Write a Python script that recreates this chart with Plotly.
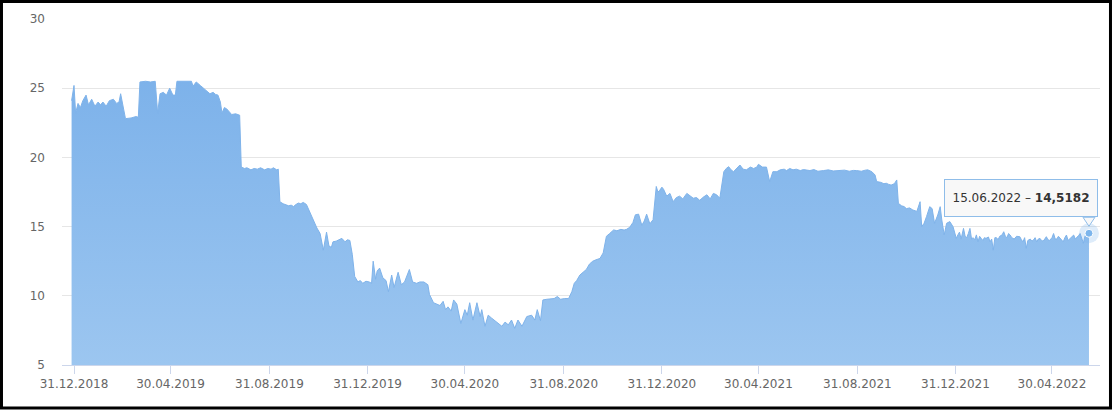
import plotly.graph_objects as go

# ---- data (date, value) ----
seg_2019a = [
    ("2018-12-28", 24.1), ("2018-12-31", 25.2), ("2019-01-02", 23.2), ("2019-01-05", 23.9),
    ("2019-01-08", 23.6), ("2019-01-11", 24.1), ("2019-01-15", 24.5), ("2019-01-18", 23.8),
    ("2019-01-22", 24.2), ("2019-01-26", 23.7), ("2019-01-30", 24.0), ("2019-02-02", 23.8),
    ("2019-02-05", 24.0), ("2019-02-09", 23.7), ("2019-02-13", 24.1), ("2019-02-18", 24.2),
    ("2019-02-22", 23.9), ("2019-02-25", 24.0), ("2019-02-27", 24.6), ("2019-03-02", 23.7),
    ("2019-03-05", 22.8), ("2019-03-12", 22.85), ("2019-03-18", 22.95), ("2019-03-21", 22.9),
    ("2019-03-23", 25.45), ("2019-03-30", 25.5), ("2019-04-05", 25.45), ("2019-04-11", 25.5),
    ("2019-04-14", 23.2), ("2019-04-17", 24.6), ("2019-04-21", 24.7), ("2019-04-25", 24.5),
    ("2019-04-29", 25.0), ("2019-05-03", 24.5), ("2019-05-06", 24.5), ("2019-05-08", 25.5),
    ("2019-05-15", 25.5), ("2019-05-20", 25.45), ("2019-05-26", 25.5), ("2019-05-28", 25.15),
    ("2019-06-01", 25.45), ("2019-06-06", 25.2), ("2019-06-10", 25.0), ("2019-06-14", 24.75),
    ("2019-06-18", 24.6), ("2019-06-22", 24.7), ("2019-06-25", 24.55), ("2019-06-28", 24.5),
    ("2019-07-01", 24.0), ("2019-07-03", 23.2), ("2019-07-06", 23.6), ("2019-07-09", 23.5),
    ("2019-07-15", 23.1), ("2019-07-20", 23.15), ("2019-07-25", 23.05),
]
seg_2019b = [
    ("2019-07-27", 19.3), ("2019-07-31", 19.2), ("2019-08-03", 19.25), ("2019-08-08", 19.1),
    ("2019-08-12", 19.2), ("2019-08-16", 19.15), ("2019-08-20", 19.25), ("2019-08-25", 19.1),
    ("2019-08-29", 19.2), ("2019-09-02", 19.15), ("2019-09-05", 19.25), ("2019-09-09", 19.1),
    ("2019-09-11", 19.15), ("2019-09-13", 16.8), ("2019-09-17", 16.65), ("2019-09-20", 16.6),
    ("2019-09-24", 16.5), ("2019-09-27", 16.55), ("2019-09-30", 16.45), ("2019-10-03", 16.6),
    ("2019-10-06", 16.7), ("2019-10-09", 16.65), ("2019-10-12", 16.75), ("2019-10-16", 16.6),
    ("2019-10-19", 16.2), ("2019-10-22", 15.9), ("2019-10-25", 15.4), ("2019-10-29", 14.9),
    ("2019-11-02", 14.5), ("2019-11-06", 13.3), ("2019-11-10", 14.6), ("2019-11-13", 13.6),
    ("2019-11-16", 13.5), ("2019-11-18", 13.9), ("2019-11-22", 13.95), ("2019-11-26", 14.1),
    ("2019-11-29", 14.15), ("2019-12-03", 13.9), ("2019-12-06", 14.05), ("2019-12-09", 14.0),
    ("2019-12-12", 13.0), ("2019-12-15", 11.4), ("2019-12-19", 11.0), ("2019-12-22", 11.1),
    ("2019-12-25", 10.9), ("2019-12-29", 11.05),
]
seg_2020a = [
    ("2020-01-02", 11.0), ("2020-01-05", 10.9), ("2020-01-07", 12.5), ("2020-01-10", 11.2),
    ("2020-01-12", 11.8), ("2020-01-15", 12.0), ("2020-01-19", 11.3), ("2020-01-23", 11.1),
    ("2020-01-26", 10.3), ("2020-01-30", 11.5), ("2020-02-02", 10.6), ("2020-02-07", 11.7),
    ("2020-02-11", 10.8), ("2020-02-15", 11.0), ("2020-02-21", 11.9), ("2020-02-25", 11.0),
    ("2020-03-01", 10.9), ("2020-03-05", 11.0), ("2020-03-10", 11.0), ("2020-03-15", 10.8),
    ("2020-03-17", 10.1), ("2020-03-22", 9.5), ("2020-03-26", 9.4), ("2020-03-30", 9.3),
    ("2020-04-03", 9.6), ("2020-04-06", 9.0), ("2020-04-09", 9.2), ("2020-04-13", 8.9),
    ("2020-04-16", 9.7), ("2020-04-20", 9.4), ("2020-04-25", 8.0), ("2020-04-30", 9.0),
    ("2020-05-03", 8.6), ("2020-05-06", 9.5), ("2020-05-10", 8.25), ("2020-05-15", 9.5),
    ("2020-05-19", 8.5), ("2020-05-21", 9.0), ("2020-05-25", 7.8), ("2020-05-29", 8.6),
    ("2020-06-02", 8.4), ("2020-06-06", 8.2), ("2020-06-11", 8.0), ("2020-06-15", 7.8),
    ("2020-06-19", 8.1), ("2020-06-23", 7.9), ("2020-06-27", 8.25), ("2020-07-01", 7.65),
    ("2020-07-05", 8.25), ("2020-07-10", 7.8), ("2020-07-16", 8.5), ("2020-07-22", 8.6),
    ("2020-07-26", 8.25), ("2020-07-29", 9.0), ("2020-08-02", 8.2),
]
seg_2020b = [
    ("2020-08-05", 9.7), ("2020-08-10", 9.75), ("2020-08-14", 9.75), ("2020-08-19", 9.8),
    ("2020-08-23", 9.95), ("2020-08-27", 9.75), ("2020-09-01", 9.8), ("2020-09-06", 9.8),
    ("2020-09-10", 10.3), ("2020-09-13", 10.9), ("2020-09-16", 11.1), ("2020-09-20", 11.5),
    ("2020-09-24", 11.7), ("2020-09-28", 11.9), ("2020-10-02", 12.3), ("2020-10-06", 12.5),
    ("2020-10-10", 12.6), ("2020-10-15", 12.7), ("2020-10-19", 13.1), ("2020-10-23", 14.3),
    ("2020-10-27", 14.5), ("2020-11-01", 14.76), ("2020-11-05", 14.7), ("2020-11-10", 14.8),
    ("2020-11-14", 14.75), ("2020-11-17", 14.8), ("2020-11-21", 14.95), ("2020-11-25", 15.3),
    ("2020-11-28", 15.85), ("2020-12-02", 15.9), ("2020-12-06", 15.1), ("2020-12-09", 15.4),
    ("2020-12-12", 15.9), ("2020-12-16", 15.2), ("2020-12-20", 15.5), ("2020-12-24", 17.9),
    ("2020-12-26", 17.5), ("2020-12-28", 17.6), ("2020-12-31", 17.85),
]
seg_2021a = [
    ("2021-01-02", 17.7), ("2021-01-06", 17.2), ("2021-01-10", 17.4), ("2021-01-14", 16.8),
    ("2021-01-18", 17.1), ("2021-01-22", 17.2), ("2021-01-26", 17.0), ("2021-01-31", 17.4),
    ("2021-02-04", 17.2), ("2021-02-08", 17.05), ("2021-02-12", 17.1), ("2021-02-16", 16.9),
    ("2021-02-21", 17.15), ("2021-02-25", 17.3), ("2021-03-01", 17.0), ("2021-03-05", 17.4),
    ("2021-03-09", 17.3), ("2021-03-13", 17.05), ("2021-03-18", 18.97), ("2021-03-21", 19.2),
    ("2021-03-24", 19.33), ("2021-03-27", 19.1), ("2021-03-30", 18.97), ("2021-04-03", 19.2),
    ("2021-04-07", 19.45), ("2021-04-11", 19.15), ("2021-04-15", 19.1), ("2021-04-20", 19.3),
    ("2021-04-24", 19.2), ("2021-04-28", 19.3), ("2021-04-30", 19.5), ("2021-05-05", 19.3),
    ("2021-05-10", 19.3), ("2021-05-14", 18.25), ("2021-05-18", 18.97), ("2021-05-23", 18.97),
    ("2021-05-27", 19.1), ("2021-06-01", 19.15), ("2021-06-04", 19.05), ("2021-06-08", 19.2),
    ("2021-06-12", 19.1), ("2021-06-16", 19.15), ("2021-06-21", 19.05), ("2021-06-25", 19.12),
    ("2021-06-29", 19.1), ("2021-07-03", 19.05), ("2021-07-08", 19.12), ("2021-07-13", 19.0),
    ("2021-07-20", 19.05), ("2021-07-26", 19.1), ("2021-08-01", 19.02), ("2021-08-09", 19.04),
    ("2021-08-15", 19.08), ("2021-08-21", 19.0), ("2021-08-26", 19.06), ("2021-08-30", 19.05),
]
seg_2021b = [
    ("2021-09-05", 19.0), ("2021-09-10", 19.08), ("2021-09-13", 19.1), ("2021-09-18", 18.97),
    ("2021-09-22", 18.73), ("2021-09-24", 18.25), ("2021-09-29", 18.2), ("2021-10-03", 18.1),
    ("2021-10-06", 18.13), ("2021-10-09", 18.05), ("2021-10-12", 18.0), ("2021-10-16", 18.1),
    ("2021-10-19", 18.37), ("2021-10-21", 16.68), ("2021-10-25", 16.5), ("2021-10-28", 16.45),
    ("2021-10-31", 16.3), ("2021-11-04", 16.35), ("2021-11-08", 16.2), ("2021-11-13", 16.1),
    ("2021-11-17", 16.8), ("2021-11-19", 15.0), ("2021-11-22", 15.24), ("2021-11-25", 15.72),
    ("2021-11-29", 16.44), ("2021-12-02", 16.3), ("2021-12-05", 15.24), ("2021-12-09", 15.84),
    ("2021-12-12", 16.44), ("2021-12-14", 15.48), ("2021-12-17", 14.4), ("2021-12-20", 15.24),
    ("2021-12-24", 15.36), ("2021-12-28", 14.99),
]
seg_2022 = [
    ("2022-01-01", 14.15), ("2022-01-03", 14.4), ("2022-01-05", 14.6), ("2022-01-07", 14.1),
    ("2022-01-10", 14.87), ("2022-01-12", 14.3), ("2022-01-14", 14.2), ("2022-01-16", 14.5),
    ("2022-01-18", 14.87), ("2022-01-20", 14.1), ("2022-01-22", 14.2), ("2022-01-24", 14.05),
    ("2022-01-26", 14.4), ("2022-01-28", 13.9), ("2022-01-30", 14.3), ("2022-02-01", 14.15),
    ("2022-02-03", 14.0), ("2022-02-05", 14.2), ("2022-02-07", 14.15), ("2022-02-10", 14.25),
    ("2022-02-12", 13.9), ("2022-02-14", 14.1), ("2022-02-16", 13.3), ("2022-02-18", 14.2),
    ("2022-02-20", 14.2), ("2022-02-22", 14.05), ("2022-02-24", 14.3), ("2022-02-27", 14.4),
    ("2022-03-01", 14.63), ("2022-03-03", 14.3), ("2022-03-05", 14.2), ("2022-03-07", 14.5),
    ("2022-03-09", 14.39), ("2022-03-11", 14.2), ("2022-03-14", 14.1), ("2022-03-17", 14.3),
    ("2022-03-21", 14.27), ("2022-03-23", 14.05), ("2022-03-25", 13.9), ("2022-03-27", 14.2),
    ("2022-03-29", 13.43), ("2022-03-31", 14.0), ("2022-04-03", 14.1), ("2022-04-05", 13.95),
    ("2022-04-07", 14.03), ("2022-04-09", 14.2), ("2022-04-11", 13.9), ("2022-04-13", 14.1),
    ("2022-04-15", 14.15), ("2022-04-17", 14.0), ("2022-04-19", 13.95), ("2022-04-21", 14.1),
    ("2022-04-23", 14.27), ("2022-04-25", 14.05), ("2022-04-27", 14.0), ("2022-04-30", 14.2),
    ("2022-05-02", 14.5), ("2022-05-04", 14.1), ("2022-05-06", 14.1), ("2022-05-08", 14.3),
    ("2022-05-10", 14.15), ("2022-05-12", 14.0), ("2022-05-14", 13.9), ("2022-05-16", 14.2),
    ("2022-05-18", 14.39), ("2022-05-20", 14.0), ("2022-05-22", 14.1), ("2022-05-25", 14.3),
    ("2022-05-27", 14.39), ("2022-05-29", 14.1), ("2022-05-31", 14.2), ("2022-06-02", 14.35),
    ("2022-06-04", 14.5), ("2022-06-06", 14.2), ("2022-06-08", 13.8), ("2022-06-10", 14.3),
    ("2022-06-11", 14.4), ("2022-06-13", 14.2), ("2022-06-15", 14.5182),
]

tick_dates = ["2018-12-31", "2019-04-30", "2019-08-31", "2019-12-31", "2020-04-30",
              "2020-08-31", "2020-12-31", "2021-04-30", "2021-08-31", "2021-12-31",
              "2022-04-30"]
tick_labels = ["31.12.2018", "30.04.2019", "31.08.2019", "31.12.2019", "30.04.2020",
               "31.08.2020", "31.12.2020", "30.04.2021", "31.08.2021", "31.12.2021",
               "30.04.2022"]
y_ticks = [5, 10, 15, 20, 25, 30]
tooltip_date = "15.06.2022"
tooltip_value = "14,5182"

segments = [seg_2019a, seg_2019b, seg_2020a, seg_2020b, seg_2021a, seg_2021b, seg_2022]
dates = [d for seg in segments for d, _ in seg]
values = [v for seg in segments for _, v in seg]

FONT = "DejaVu Sans"
BORDER = "#8fbde9"
TIP_BG = "rgba(248,248,248,0.97)"

fig = go.Figure()
fig.add_trace(go.Scatter(
    x=dates, y=values, mode="lines",
    line=dict(color="#7fb3ea", width=1),
    fill="tozeroy",
    fillgradient=dict(type="vertical",
                      colorscale=[[0, "#9cc6f0"], [1, "#7db2ea"]],
                      start=5, stop=25.5),
    hoverinfo="skip", showlegend=False,
))
# halo + marker for the highlighted last point
fig.add_trace(go.Scatter(
    x=[dates[-1]], y=[values[-1]], mode="markers",
    marker=dict(size=20, color="rgba(124,181,236,0.25)", line=dict(width=0)),
    hoverinfo="skip", showlegend=False,
))
fig.add_trace(go.Scatter(
    x=[dates[-1]], y=[values[-1]], mode="markers",
    marker=dict(size=8, color="#7cb5ec", line=dict(color="#ffffff", width=1)),
    hoverinfo="skip", showlegend=False,
))

fig.update_layout(
    width=1113, height=412,
    margin=dict(l=62, r=13, t=19, b=47),
    paper_bgcolor="white", plot_bgcolor="white",
    font=dict(family=FONT, size=12, color="#666666"),
    hovermode=False,
    xaxis=dict(
        type="date",
        range=["2018-12-16 02:00", "2022-06-28 17:00"],
        tickvals=tick_dates, ticktext=tick_labels,
        showgrid=False, zeroline=False,
        showline=True, linecolor="#ccd6eb", linewidth=1,
        ticks="outside", ticklen=8, tickcolor="#ccd6eb", tickwidth=1,
        tickfont=dict(family=FONT, size=12, color="#666666"),
    ),
    yaxis=dict(
        range=[5, 30], tickvals=y_ticks,
        showgrid=True, gridcolor="#e6e6e6", gridwidth=1,
        zeroline=False, showline=False, ticks="",
        ticklabelstandoff=16,
        tickfont=dict(family=FONT, size=12, color="#666666"),
    ),
    annotations=[dict(
        x=dates[-1], y=values[-1], xref="x", yref="y",
        text=f"{tooltip_date} – <b>{tooltip_value}</b>",
        showarrow=False, xanchor="right", yanchor="bottom",
        xshift=9, yshift=16,
        bgcolor=TIP_BG, bordercolor=BORDER,
        borderwidth=1, borderpad=2, width=148, height=32,
        font=dict(family=FONT, size=12, color="#333333"),
    )],
    shapes=[
        dict(type="path", xref="x", yref="y",
             xsizemode="pixel", ysizemode="pixel",
             xanchor=dates[-1], yanchor=values[-1],
             path="M -6,16 L 0,7 L 6,16 Z",
             fillcolor=TIP_BG, line=dict(color=BORDER, width=1)),
        dict(type="rect", xref="paper", yref="paper",
             x0=-0.0583, x1=1.0101, y0=-0.1243, y1=1.0506,
             line=dict(color="#000000", width=3), fillcolor="rgba(0,0,0,0)"),
    ],
)

fig.write_html("out.html", config={"displayModeBar": False},
               post_script="document.body.style.margin='0';")
